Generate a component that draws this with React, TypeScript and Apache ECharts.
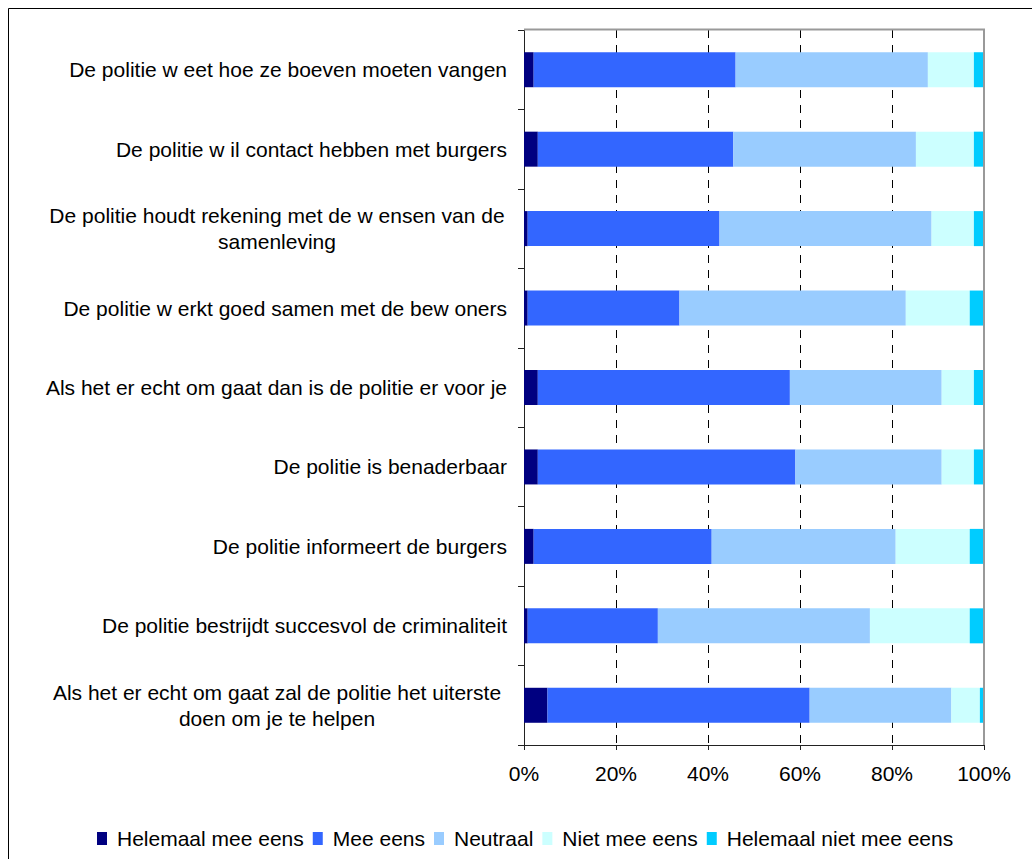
import React, { useEffect, useRef } from "react";
import * as echarts from "echarts";

const categories = [
  "De politie w eet hoe ze boeven moeten vangen",
  "De politie w il contact hebben met burgers",
  "De politie houdt rekening met de w ensen van de\nsamenleving",
  "De politie w erkt goed samen met de bew oners",
  "Als het er echt om gaat dan is de politie er voor je",
  "De politie is benaderbaar",
  "De politie informeert de burgers",
  "De politie bestrijdt succesvol de criminaliteit",
  "Als het er echt om gaat zal de politie het uiterste\ndoen om je te helpen",
];

const seriesNames = [
  "Helemaal mee eens",
  "Mee eens",
  "Neutraal",
  "Niet mee eens",
  "Helemaal niet mee eens",
];

const helemaalMeeEens = [2.1, 3.0, 0.8, 0.8, 3.0, 3.0, 2.1, 0.8, 5.1];
const meeEens = [43.9, 42.5, 41.7, 33.0, 54.8, 56.0, 38.7, 28.3, 57.0];
const neutraal = [41.8, 39.7, 46.1, 49.2, 33.0, 31.8, 40.0, 46.1, 30.8];
const nietMeeEens = [10.0, 12.6, 9.2, 13.9, 7.0, 7.0, 16.1, 21.7, 6.2];
const helemaalNietMeeEens = [2.2, 2.2, 2.2, 3.1, 2.2, 2.2, 3.1, 3.1, 0.9];

const xTicks = { min: 0, max: 100, interval: 20 };

const colors = ["#000080", "#3366FF", "#99CCFF", "#CCFFFF", "#00CCFF"];
const FONT = "'Liberation Sans', Arial, sans-serif";

export default function App() {
  const ref = useRef<HTMLDivElement>(null);
  useEffect(() => {
    if (!ref.current) return;
    const chart = echarts.init(ref.current, null, { renderer: "svg" });
    const values = [helemaalMeeEens, meeEens, neutraal, nietMeeEens, helemaalNietMeeEens];
    const gridLeft = 524;
    const gridRight = 48;
    const gridTop = 30;
    const gridBottom = 114;
    chart.setOption({
      animation: false,
      backgroundColor: "#ffffff",
      textStyle: { fontFamily: FONT },
      grid: { left: gridLeft, right: gridRight, top: gridTop, bottom: gridBottom, containLabel: false },
      legend: {
        data: seriesNames,
        left: 97,
        top: 828,
        padding: 0,
        icon: "rect",
        itemWidth: 10,
        itemHeight: 13,
        itemGap: 9,
        selectedMode: false,
        textStyle: { fontSize: 21, color: "#000", fontFamily: FONT, padding: [0, 0, 0, 5] },
      },
      xAxis: {
        type: "value",
        min: xTicks.min,
        max: xTicks.max,
        interval: xTicks.interval,
        axisLine: { show: true, lineStyle: { color: "#222", width: 1 } },
        axisTick: { show: true, length: 5, lineStyle: { color: "#222" } },
        axisLabel: {
          formatter: "{value}%",
          fontSize: 21,
          color: "#000",
          margin: 18,
          fontFamily: FONT,
        },
        splitLine: { show: true, lineStyle: { color: "#000", type: [8, 7], width: 1 } },
      },
      yAxis: {
        type: "category",
        data: categories,
        inverse: true,
        axisLine: { show: true, lineStyle: { color: "#222", width: 1 } },
        axisTick: { show: true, length: 6, lineStyle: { color: "#222" } },
        axisLabel: {
          fontSize: 21,
          color: "#000",
          margin: 17,
          fontFamily: FONT,
          formatter: (v: string) => {
            if (v.indexOf("\n") >= 0) {
              return v
                .split("\n")
                .map((l) => "{m|" + l + "}")
                .join("\n");
            }
            return v;
          },
          rich: {
            m: {
              width: 460,
              align: "center",
              fontSize: 21,
              lineHeight: 26,
              color: "#000",
              fontFamily: FONT,
            },
          },
        },
      },
      series: seriesNames.map((name, i) => ({
        name,
        type: "bar",
        stack: "total",
        barWidth: 35,
        data: values[i],
        itemStyle: { color: colors[i] },
        emphasis: { disabled: true },
      })),
      graphic: [
        {
          type: "rect",
          shape: { x: 8.5, y: 8.5, width: 1100, height: 1000 },
          style: { fill: "none", stroke: "#000", lineWidth: 1 },
          silent: true,
          z: 0,
        },
        {
          type: "polyline",
          shape: {
            points: [
              [gridLeft, gridTop - 0.5],
              [1032 - gridRight, gridTop - 0.5],
              [1032 - gridRight, 859 - gridBottom],
            ],
          },
          style: { fill: "none", stroke: "#999", lineWidth: 2 },
          silent: true,
          z: 100,
        },
      ],
    });
    return () => chart.dispose();
  }, []);
  return (
    <div
      ref={ref}
      style={{ position: "absolute", left: 0, top: 0, width: 1032, height: 859 }}
    />
  );
}
